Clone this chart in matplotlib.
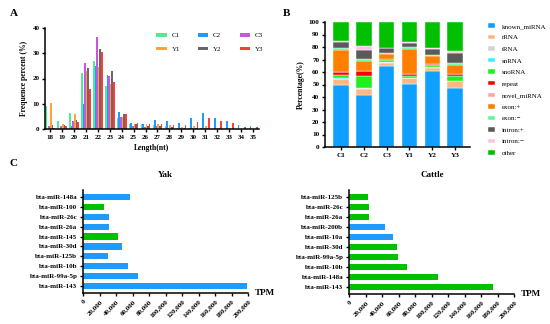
import numpy as np
import matplotlib
matplotlib.use("Agg")
import matplotlib.pyplot as plt
from matplotlib.ticker import FuncFormatter

plt.rcParams['font.family'] = ['Liberation Serif', 'DejaVu Serif']
plt.rcParams['font.weight'] = 'bold'
plt.rcParams['axes.labelweight'] = 'bold'
plt.rcParams['axes.linewidth'] = 1.1

W, H = 550.0, 324.0

# ---- panel A: length distribution ----
lengths = list(range(18, 36))
samples_a = ["C1", "C2", "C3", "Y1", "Y2", "Y3"]
freq = {
    "C1": [9.0, 3.0, 6.4, 22.0, 27.0, 17.0, 4.5, 2.0, 1.8, 1.5, 1.0, 0.3, 0.2, 0.2, 0.0, 0.0, 0.0, 0.0],
    "C2": [0.0, 0.0, 1.0, 10.0, 25.0, 21.4, 6.6, 2.2, 2.1, 3.5, 3.0, 2.5, 4.2, 6.3, 4.2, 3.3, 1.5, 1.3],
    "C3": [1.0, 1.0, 3.2, 26.0, 36.3, 20.8, 4.8, 1.0, 0.8, 1.0, 0.5, 0.3, 0.3, 0.2, 0.1, 0.0, 0.0, 0.0],
    "Y1": [10.3, 2.1, 5.8, 22.8, 24.6, 17.8, 4.7, 2.0, 1.8, 1.8, 1.7, 0.8, 1.0, 1.1, 0.3, 0.2, 0.1, 0.1],
    "Y2": [1.5, 1.5, 3.7, 24.0, 31.5, 23.0, 5.8, 1.8, 1.3, 1.2, 0.8, 0.5, 0.4, 0.3, 0.2, 0.1, 0.0, 0.0],
    "Y3": [0.5, 1.0, 2.8, 16.0, 30.5, 18.5, 6.1, 2.3, 1.8, 2.0, 1.6, 1.7, 2.7, 4.5, 3.0, 2.2, 0.9, 0.8],
}
colors_a = ["#4EEB93", "#1E9BFF", "#CC55E0", "#FFA23E", "#686868", "#FF3B3B"]

# ---- panel B: RNA categories ----
samples_b = ["C1", "C2", "C3", "Y1", "Y2", "Y3"]
categories = ["known_miRNA", "rRNA", "tRNA", "snRNA", "snoRNA", "repeat",
              "novel_miRNA", "exon:+", "exon:\u2212", "intron:+", "intron:\u2212", "other"]
comp = [
    [49.5, 42.0, 65.0, 50.5, 60.5, 47.5],   # known_miRNA
    [5.0, 4.5, 2.5, 4.5, 3.0, 5.0],         # rRNA
    [0.3, 0.5, 0.2, 0.2, 0.2, 0.2],         # tRNA
    [0.2, 0.2, 0.1, 0.1, 0.1, 0.1],         # snRNA
    [3.0, 9.3, 1.7, 1.5, 1.8, 3.7],         # snoRNA
    [2.0, 4.0, 1.0, 1.5, 1.0, 2.0],         # repeat
    [0.3, 0.2, 0.2, 0.2, 0.2, 0.2],         # novel_miRNA
    [17.2, 8.3, 3.8, 19.8, 5.7, 7.3],       # exon:+
    [1.5, 1.5, 0.5, 1.5, 1.5, 1.0],         # exon:-
    [5.0, 7.0, 4.0, 3.5, 4.5, 8.0],         # intron:+
    [1.0, 3.5, 0.5, 1.0, 0.5, 2.0],         # intron:-
    [15.0, 19.0, 20.5, 15.7, 21.0, 23.0],   # other
]
colors_b = ["#0FA0FF", "#FFB784", "#D4D4D4", "#33F0FF", "#1EF01E", "#FF0000",
            "#FFA3A3", "#FF7F00", "#5CF79B", "#5A5A5A", "#FFC3E6", "#00C000"]

# ---- panel C: top miRNAs ----
yak_names = ["bta-miR-143", "bta-miR-99a-5p", "bta-miR-10b", "bta-miR-125b", "bta-miR-30d",
             "bta-miR-145", "bta-miR-26a", "bta-miR-26c", "bta-miR-100", "bta-miR-148a"]
yak_tpm = [198800, 66500, 55100, 30600, 46900, 42400, 31400, 31400, 24900, 56700]
yak_shared = [True, True, True, True, True, False, True, True, False, True]

cattle_names = ["bta-miR-143", "bta-miR-148a", "bta-miR-10b", "bta-miR-99a-5p", "bta-miR-30d",
                "bta-miR-10a", "bta-miR-200b", "bta-miR-26a", "bta-miR-26c", "bta-miR-125b"]
cattle_tpm = [174700, 108400, 69900, 59800, 58600, 53400, 43800, 23700, 23700, 23300]
cattle_shared = [True, True, True, True, True, False, False, True, True, True]

BLUE = "#1E9BFF"
GREEN = "#00C000"


def px_axes(fig, x0, y0, x1, y1):
    return fig.add_axes([x0 / W, 1 - y1 / H, (x1 - x0) / W, (y1 - y0) / H])


def style(ax, fs=5.5):
    for s in ["top", "right"]:
        ax.spines[s].set_visible(False)
    ax.tick_params(labelsize=fs, width=1.0, length=2.5, pad=1.5)
    for lab in ax.get_xticklabels() + ax.get_yticklabels():
        lab.set_fontweight('bold')


fig = plt.figure(figsize=(5.5, 3.24), dpi=100)
legend_font = {"family": "Liberation Serif", "weight": "normal", "size": 5}

# A
ax = px_axes(fig, 45, 28, 259, 129)
n = len(samples_a)
bw = 0.135
x = np.array(lengths, dtype=float)
handles = []
for k, s in enumerate(samples_a):
    handles.append(ax.bar(x + (k - (n - 1) / 2) * bw, freq[s], width=bw, color=colors_a[k],
                          label=s, linewidth=0))
ax.set_xlim(17.58, 35.5)
ax.set_ylim(0, 40)
ax.set_xticks(lengths)
ax.set_yticks([0, 10, 20, 30, 40])
ax.set_xlabel("Length(nt)", fontsize=5.5, labelpad=3)
ax.set_ylabel("Frequence percent (%)", fontsize=5.5, labelpad=3)
style(ax, 5)
# legend fills column by column, so interleave to get rows C1 C2 C3 / Y1 Y2 Y3
order = [0, 3, 1, 4, 2, 5]
ax.legend([handles[i] for i in order], [samples_a[i] for i in order], ncol=3,
          loc="upper left", bbox_to_anchor=(0.49, 1.01), frameon=False, prop=legend_font,
          handlelength=1.5, handleheight=0.35, columnspacing=2.6, labelspacing=1.25,
          handletextpad=0.7)

# B
ax = px_axes(fig, 325, 22, 470, 147)
xb = np.arange(len(samples_b))
bottom = np.zeros(len(samples_b))
for vals, c, lab in zip(comp, colors_b, categories):
    ax.bar(xb, vals, bottom=bottom, width=0.68, color=c, label=lab, edgecolor="white", linewidth=0.3)
    bottom += np.array(vals)
ax.set_xlim(-0.7, 5.65)
ax.set_ylim(0, 100)
ax.set_yticks(range(0, 101, 10))
ax.set_xticks(xb)
ax.set_xticklabels(samples_b)
ax.set_ylabel("Percentage(%)", fontsize=5.5, labelpad=3)
style(ax, 5.2)
hs, ls = ax.get_legend_handles_labels()
ax.legend(hs, ls, loc="upper left", bbox_to_anchor=(1.08, 1.04), frameon=False, prop=legend_font,
          handlelength=1.1, handleheight=0.6, labelspacing=0.85, handletextpad=0.9)

# C
fmt = FuncFormatter(lambda v, p: "0" if v == 0 else f"{int(v):,}")


def tpm_panel(x0, x1, y1, names, tpm, shared, title, title_x):
    ax = px_axes(fig, x0, 190, x1, y1)
    y = np.arange(len(names))
    cols = [BLUE if s else GREEN for s in shared] if title == "Yak" else \
           [GREEN if s else BLUE for s in shared]
    ax.barh(y, tpm, height=0.62, color=cols, linewidth=0)
    ax.set_yticks(y)
    ax.set_yticklabels(names)
    ax.set_ylim(-0.7, 9.7)
    ax.set_xlim(0, 200000)
    ax.set_xticks(range(0, 200001, 20000))
    ax.xaxis.set_major_formatter(fmt)
    style(ax, 5)
    for lab in ax.get_xticklabels():
        lab.set_rotation(45)
        lab.set_ha("right")
        lab.set_rotation_mode("anchor")
    ax.text(1.04, 0.0, "TPM", transform=ax.transAxes, fontsize=6.5, fontweight="bold",
            ha="left", va="center")
    fig.text(title_x / W, 1 - 175 / H, title, fontsize=6.5, fontweight="bold", ha="center", va="center")
    return ax


tpm_panel(83, 248, 293, yak_names, yak_tpm, yak_shared, "Yak", 165)
tpm_panel(349, 514, 294, cattle_names, cattle_tpm, cattle_shared, "Cattle", 432)

fig.text(10 / W, 1 - 13 / H, "A", fontsize=8, fontweight="bold", va="center")
fig.text(283 / W, 1 - 13 / H, "B", fontsize=8, fontweight="bold", va="center")
fig.text(10 / W, 1 - 163 / H, "C", fontsize=8, fontweight="bold", va="center")

fig.savefig("out.png", dpi=100)
